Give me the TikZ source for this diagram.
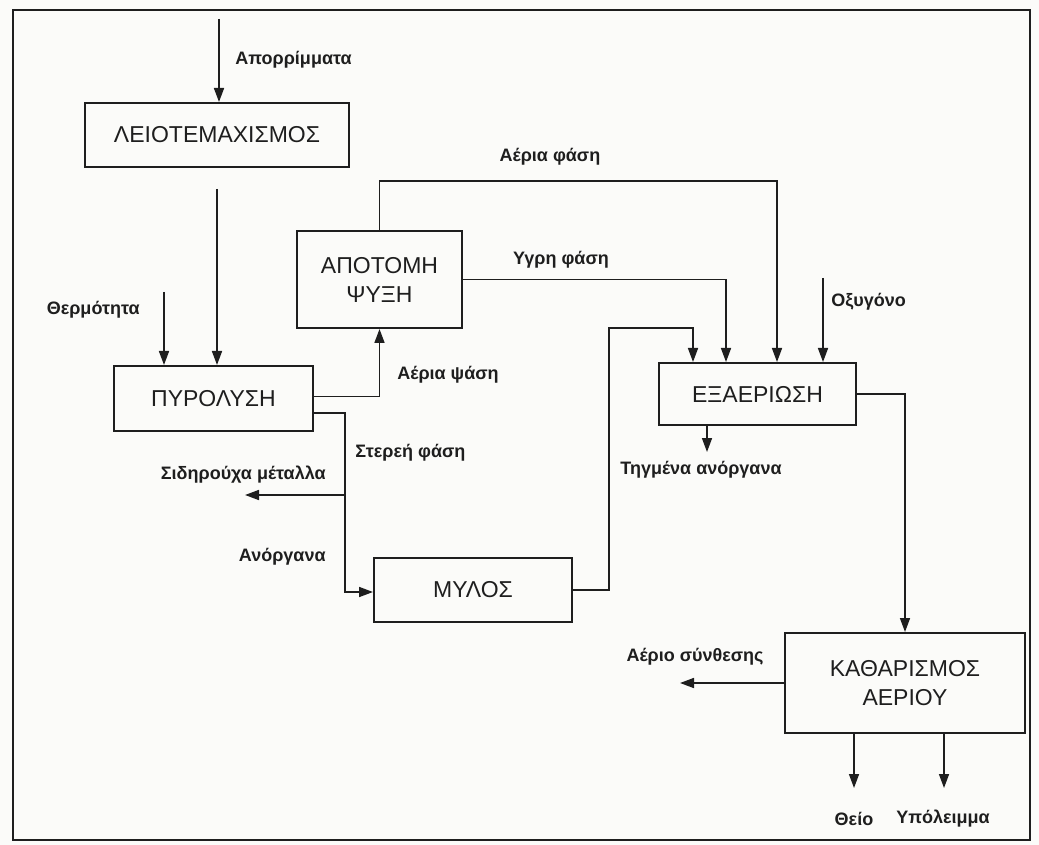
\documentclass[tikz,border=0pt]{standalone}
\usepackage{fontspec}
\setmainfont{Liberation Sans}
\usepackage{tikz}
\usetikzlibrary{arrows.meta}
\definecolor{ink}{HTML}{1E1E1E}
\definecolor{paper}{HTML}{FBFBF9}
\tikzset{
  stage/.style={draw=ink, line width=1pt, inner sep=2pt, align=center, text=ink,
    font=\fontsize{11.5}{14.5}\selectfont},
  arr/.style={-{Triangle[length=7pt,width=5pt]}, line width=0.8pt, draw=ink},
  lbl/.style={font=\bfseries\fontsize{9}{11}\selectfont, text=ink, inner sep=0pt}
}
\begin{document}
\begin{tikzpicture}[x=0.5pt,y=-0.5pt]
  \fill[paper] (0,0) rectangle (1039,845);
  \useasboundingbox (0,0) rectangle (1039,845);
  \draw[ink, line width=1.3pt] (13,10) rectangle (1030,840);
  % stages
  \node[stage, minimum width=132pt, minimum height=32pt] (shred) at (217,135) {ΛΕΙΟΤΕΜΑΧΙΣΜΟΣ};
  \node[stage, minimum width=99.5pt, minimum height=32.5pt] (pyro) at (213.5,398.5) {ΠΥΡΟΛΥΣΗ};
  \node[stage, minimum width=82.5pt, minimum height=48.5pt] (quench) at (379.5,279.5) {ΑΠΟΤΟΜΗ\\ΨΥΞΗ};
  \node[stage, minimum width=99pt, minimum height=32pt] (mill) at (473,590) {ΜΥΛΟΣ};
  \node[stage, minimum width=98.5pt, minimum height=31pt] (gasif) at (757.5,394) {ΕΞΑΕΡΙΩΣΗ};
  \node[stage, minimum width=120pt, minimum height=50pt] (clean) at (905,683) {ΚΑΘΑΡΙΣΜΟΣ\\ΑΕΡΙΟΥ};
  % labels
  \node[lbl, anchor=west] (lwaste) at (235,60) {Απορρίμματα};
  \node[lbl, anchor=east] (lheat) at (140,310) {Θερμότητα};
  \node[lbl, anchor=west] (lvap) at (397,375) {Αέρια ψάση};
  \node[lbl, anchor=west] (lsolid) at (355,453) {Στερεή φάση};
  \node[lbl, anchor=east] (lmetal) at (326,475) {Σιδηρούχα μέταλλα};
  \node[lbl, anchor=east] (linorg) at (326,557) {Ανόργανα};
  \node[lbl] (lgas) at (550,157) {Αέρια φάση};
  \node[lbl] (lliq) at (561,260) {Υγρη φάση};
  \node[lbl, anchor=west] (loxy) at (831,302) {Οξυγόνο};
  \node[lbl] (lmelt) at (701,470) {Τηγμένα ανόργανα};
  \node[lbl] (lsyn) at (695,657) {Αέριο σύνθεσης};
  \node[lbl] (lsulf) at (854,819) {Θείο};
  \node[lbl] (lres) at (943,819) {Υπόλειμμα};
  % free ends and bends
  \coordinate (waste) at (219,19);
  \coordinate (heat) at (164,292);
  \coordinate (split) at (345,495);
  \coordinate (metals) at (245,495);
  \coordinate (millup) at (609,328);
  \coordinate (oxy) at (823,278);
  \coordinate (melt) at (707,452);
  \coordinate (syn) at (680,683);
  \coordinate (sulf) at (854,788);
  \coordinate (resid) at (944,788);
  % flows
  \draw[arr] (waste) -- (waste |- shred.north);
  \draw[arr, shorten <=10.5pt] (shred.south) -- (shred.south |- pyro.north);
  \draw[arr] (heat) -- (heat |- pyro.north);
  \draw[arr] ([yshift=1pt]pyro.east) -| (quench.south);
  \draw[arr] ([yshift=-7.25pt]pyro.east) -| (split) |- ([yshift=-1pt]mill.west);
  \draw[arr] (split) -- (metals);
  \draw[arr] (quench.north) -- ++(0,-49) -| ([xshift=9.75pt]gasif.north);
  \draw[arr] (quench.east) -| ([xshift=-15.75pt]gasif.north);
  \draw[arr] (mill.east) -| (millup) -| ([xshift=-32.25pt]gasif.north);
  \draw[arr] (oxy) -- (oxy |- gasif.north);
  \draw[arr] (melt |- gasif.south) -- (melt);
  \draw[arr] (gasif.east) -| (clean.north);
  \draw[arr] (clean.west) -- (syn);
  \draw[arr] (sulf |- clean.south) -- (sulf);
  \draw[arr] (resid |- clean.south) -- (resid);
\end{tikzpicture}
\end{document}
